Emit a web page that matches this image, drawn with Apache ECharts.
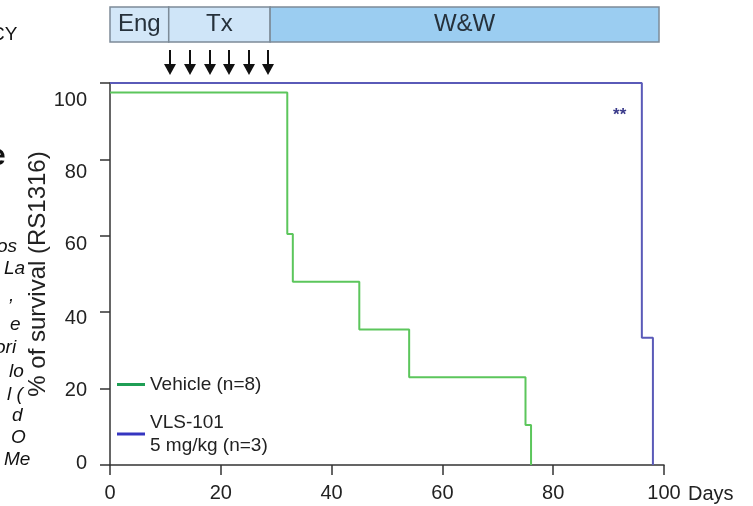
<!DOCTYPE html>
<html>
<head>
<meta charset="utf-8">
<script src="https://cdn.jsdelivr.net/npm/echarts@6/dist/echarts.min.js"></script>
<style>
html, body { margin: 0; padding: 0; background: #fff; }
#chart { width: 753px; height: 506px; }
</style>
</head>
<body>
<div id="chart"></div>
<script>
// survival curves: day -> % surviving
const vehicleDays = [0, 32, 33, 45, 54, 75, 76];
const vehicleSurv = [97.5, 60.5, 48, 35.5, 23, 10.5, 0];
const vlsDays = [0, 96, 98];
const vlsSurv = [100, 33.3, 0];

const seriesNames = ['Vehicle (n=8)', 'VLS-101\n5 mg/kg (n=3)'];

const yTicks = [0, 20, 40, 60, 80, 100];

// study phases along the top, in days
const phaseNames = ['Eng', 'Tx', 'W&W'];
const phaseStart = [0, 10.6, 28.9];
const phaseEnd = [10.6, 28.9, 99.1];

// dosing arrows, in days
const doseDays = [10.8, 14.4, 18, 21.5, 25.1, 28.6];

// significance mark
const starDay = 92;
const starSurv = 91.5;

const FONT = '"Liberation Sans", Arial, sans-serif';
const phaseFill = ['#d3e7f8', '#cfe5f8', '#9bcdf1'];

// in the figure the y labels drift down from their ticks as they go up
const yLabelRich = {};
yTicks.forEach(v => {
    const s = Math.round(-2 + 0.19 * v);
    yLabelRich['t' + v] = {
        fontSize: 20, color: '#222', fontFamily: FONT,
        padding: s >= 0 ? [2 * s, 0, 0, 0] : [0, 0, -2 * s, 0]
    };
});

const chart = echarts.init(document.getElementById('chart'));

const gridSide = { left: 110, right: 89 };

chart.setOption({
    animation: false,
    textStyle: { fontFamily: FONT },
    grid: [
        { left: gridSide.left, right: gridSide.right, top: 83, bottom: 41 },
        { left: gridSide.left, right: gridSide.right, top: 7, height: 35 },
        { left: gridSide.left, right: gridSide.right, top: 50, height: 25 }
    ],
    xAxis: [{
        type: 'value',
        gridIndex: 0,
        min: 0,
        max: 100,
        interval: 20,
        name: 'Days',
        nameLocation: 'end',
        nameGap: 24,
        nameTextStyle: { fontSize: 20, color: '#222', verticalAlign: 'top', padding: [19, 0, 0, 0] },
        axisLine: { lineStyle: { color: '#333', width: 1.5 } },
        axisTick: { length: 10, lineStyle: { color: '#333', width: 1.5 } },
        axisLabel: { fontSize: 20, color: '#222', margin: 18 },
        splitLine: { show: false }
    }, {
        type: 'value', gridIndex: 1, min: 0, max: 100, show: false
    }, {
        type: 'value', gridIndex: 2, min: 0, max: 100, show: false
    }],
    yAxis: [{
        type: 'value',
        gridIndex: 0,
        min: 0,
        max: 100,
        interval: 20,
        name: '% of survival (RS1316)',
        nameLocation: 'middle',
        nameGap: 60,
        nameMoveOverlap: false,
        nameTextStyle: { fontSize: 24, color: '#222' },
        axisLine: { show: true, lineStyle: { color: '#333', width: 1.5 } },
        axisTick: { show: true, length: 10, lineStyle: { color: '#333', width: 1.5 } },
        axisLabel: {
            fontSize: 20,
            color: '#222',
            margin: 23,
            formatter: v => '{t' + v + '|' + v + '}',
            rich: yLabelRich
        },
        splitLine: { show: false }
    }, {
        type: 'value', gridIndex: 1, min: 0, max: 1, show: false
    }, {
        type: 'value', gridIndex: 2, min: 0, max: 1, show: false
    }],
    legend: {
        orient: 'vertical',
        left: 112,
        top: 368,
        itemGap: 15,
        itemWidth: 28,
        itemHeight: 3,
        icon: 'rect',
        textStyle: { fontSize: 19, lineHeight: 23, color: '#222', fontFamily: FONT },
        data: [
            { name: seriesNames[0], itemStyle: { color: '#1f9e55' } },
            { name: seriesNames[1], itemStyle: { color: '#3535c0' } }
        ]
    },
    series: [{
        name: seriesNames[0],
        type: 'line',
        step: 'end',
        symbol: 'none',
        color: '#5cc65c',
        lineStyle: { width: 2, color: '#5cc65c' },
        data: vehicleDays.map((d, i) => [d, vehicleSurv[i]])
    }, {
        name: seriesNames[1],
        type: 'line',
        step: 'end',
        symbol: 'none',
        clip: false,
        color: '#5a5ab8',
        lineStyle: { width: 2, color: '#5a5ab8' },
        data: vlsDays.map((d, i) => [d, vlsSurv[i]]),
        markPoint: {
            symbol: 'circle',
            symbolSize: 0,
            label: { show: true, formatter: '**', fontSize: 17, color: '#3a3a8a', fontWeight: 'bold' },
            data: [{ coord: [starDay, starSurv] }]
        }
    }, {
        type: 'custom',
        xAxisIndex: 1,
        yAxisIndex: 1,
        clip: false,
        data: phaseNames.map((n, i) => [phaseStart[i], phaseEnd[i]]),
        renderItem(params, api) {
            const i = params.dataIndex;
            const a = api.coord([api.value(0), 1]);
            const b = api.coord([api.value(1), 0]);
            return {
                type: 'rect',
                shape: { x: a[0], y: a[1], width: b[0] - a[0], height: b[1] - a[1] },
                style: { fill: phaseFill[i], stroke: '#7d8b98', lineWidth: 1.5 },
                textContent: { style: { text: phaseNames[i], fontSize: 24, fill: '#26313b', fontFamily: FONT } },
                textConfig: { position: 'inside' }
            };
        }
    }, {
        type: 'custom',
        xAxisIndex: 2,
        yAxisIndex: 2,
        clip: false,
        data: doseDays.map(d => [d]),
        renderItem(params, api) {
            const top = api.coord([api.value(0), 1]);
            const bot = api.coord([api.value(0), 0]);
            const x = Math.round(top[0]);
            return {
                type: 'group',
                children: [{
                    type: 'line',
                    shape: { x1: x, y1: top[1], x2: x, y2: bot[1] - 6 },
                    style: { stroke: '#111', lineWidth: 2 }
                }, {
                    type: 'polygon',
                    shape: { points: [[x - 6, bot[1] - 11], [x + 6, bot[1] - 11], [x, bot[1]]] },
                    style: { fill: '#111' }
                }]
            };
        }
    }],
    graphic: [
        // cropped text from the neighbouring panel on the left
        { type: 'text', left: -9, top: 25, style: { text: 'CY', fontSize: 19, fill: '#111', fontFamily: FONT } },
        { type: 'text', left: -11, top: 142, style: { text: 'e', fontSize: 30, fontWeight: 'bold', fill: '#111', fontFamily: FONT } },
        { type: 'text', left: -3, top: 237, style: { text: 'os', fontSize: 19, fontStyle: 'italic', fill: '#111', fontFamily: FONT } },
        { type: 'text', left: 4, top: 259, style: { text: 'La', fontSize: 19, fontStyle: 'italic', fill: '#111', fontFamily: FONT } },
        { type: 'text', left: 9, top: 286, style: { text: ',', fontSize: 19, fontStyle: 'italic', fill: '#111', fontFamily: FONT } },
        { type: 'text', left: 10, top: 315, style: { text: 'e', fontSize: 19, fontStyle: 'italic', fill: '#111', fontFamily: FONT } },
        { type: 'text', left: -5, top: 338, style: { text: 'ori', fontSize: 19, fontStyle: 'italic', fill: '#111', fontFamily: FONT } },
        { type: 'text', left: 9, top: 362, style: { text: 'lo', fontSize: 19, fontStyle: 'italic', fill: '#111', fontFamily: FONT } },
        { type: 'text', left: 7, top: 385, style: { text: 'l (', fontSize: 19, fontStyle: 'italic', fill: '#111', fontFamily: FONT } },
        { type: 'text', left: 12, top: 406, style: { text: 'd', fontSize: 19, fontStyle: 'italic', fill: '#111', fontFamily: FONT } },
        { type: 'text', left: 11, top: 428, style: { text: 'O', fontSize: 19, fontStyle: 'italic', fill: '#111', fontFamily: FONT } },
        { type: 'text', left: 4, top: 450, style: { text: 'Me', fontSize: 19, fontStyle: 'italic', fill: '#111', fontFamily: FONT } }
    ]
});
</script>
</body>
</html>
